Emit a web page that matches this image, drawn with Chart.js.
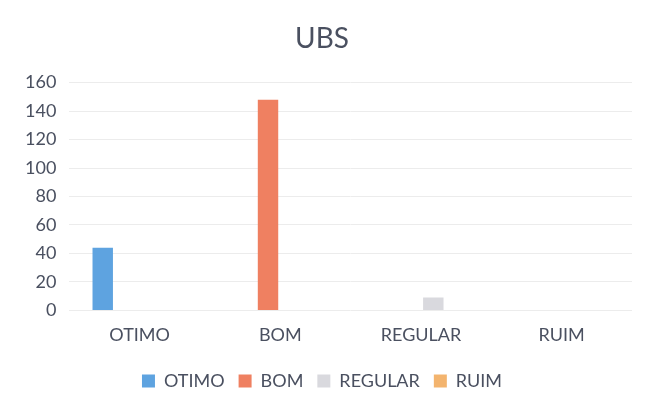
<!DOCTYPE html>
<html lang="pt">
<head>
    <meta charset="UTF-8">
    <title>UBS</title>
    <script src="https://cdn.jsdelivr.net/npm/chart.js"></script>
    <style>
        html, body { margin: 0; padding: 0; background: #ffffff; }
        .chart-container { width: 646px; height: 403px; }
    </style>
</head>
<body>
    <div class="chart-container">
        <canvas id="ubsChart"></canvas>
    </div>

    <script>
        const categories = ['OTIMO', 'BOM', 'REGULAR', 'RUIM'];
        // um valor por categoria, cada serie so tem barra na sua propria categoria
        const otimo = [44, null, null, null];
        const bom = [null, 148, null, null];
        const regular = [null, null, 9, null];
        const ruim = [null, null, null, 0];
        const yTicks = [0, 20, 40, 60, 80, 100, 120, 140, 160];

        const colors = ['#5ea3e0', '#ef8061', '#d9d9de', '#f3b46e'];
        const textColor = '#4a5060';

        const ctx = document.getElementById('ubsChart').getContext('2d');
        new Chart(ctx, {
            type: 'bar',
            data: {
                labels: categories,
                datasets: [
                    { label: 'OTIMO', data: otimo, backgroundColor: colors[0] },
                    { label: 'BOM', data: bom, backgroundColor: colors[1] },
                    { label: 'REGULAR', data: regular, backgroundColor: colors[2] },
                    { label: 'RUIM', data: ruim, backgroundColor: colors[3] }
                ]
            },
            options: {
                responsive: true,
                maintainAspectRatio: false,
                animation: false,
                barPercentage: 0.83,
                categoryPercentage: 0.7,
                layout: { padding: { left: 12, right: 14, top: 12, bottom: 3 } },
                plugins: {
                    title: {
                        display: true,
                        text: 'UBS',
                        color: textColor,
                        font: { family: 'Lato', size: 28, weight: 'normal' },
                        padding: { top: 10, bottom: 27 }
                    },
                    legend: {
                        position: 'bottom',
                        labels: {
                            color: textColor,
                            font: { family: 'Lato', size: 18 },
                            boxWidth: 13,
                            boxHeight: 13,
                            padding: 14
                        }
                    },
                    tooltip: { enabled: false }
                },
                scales: {
                    x: {
                        grid: { display: false },
                        border: { display: false },
                        ticks: {
                            color: textColor,
                            font: { family: 'Lato', size: 18 },
                            padding: 6
                        },
                        // espaco extra entre os rotulos e a legenda
                        afterFit: axis => { axis.height += 6; }
                    },
                    y: {
                        min: yTicks[0],
                        max: yTicks[yTicks.length - 1],
                        afterBuildTicks: axis => { axis.ticks = yTicks.map(v => ({ value: v })); },
                        grid: { color: '#ececec', drawTicks: false },
                        border: { display: false },
                        ticks: {
                            color: textColor,
                            font: { family: 'Lato', size: 18 },
                            padding: 13
                        }
                    }
                }
            }
        });
    </script>
</body>
</html>
